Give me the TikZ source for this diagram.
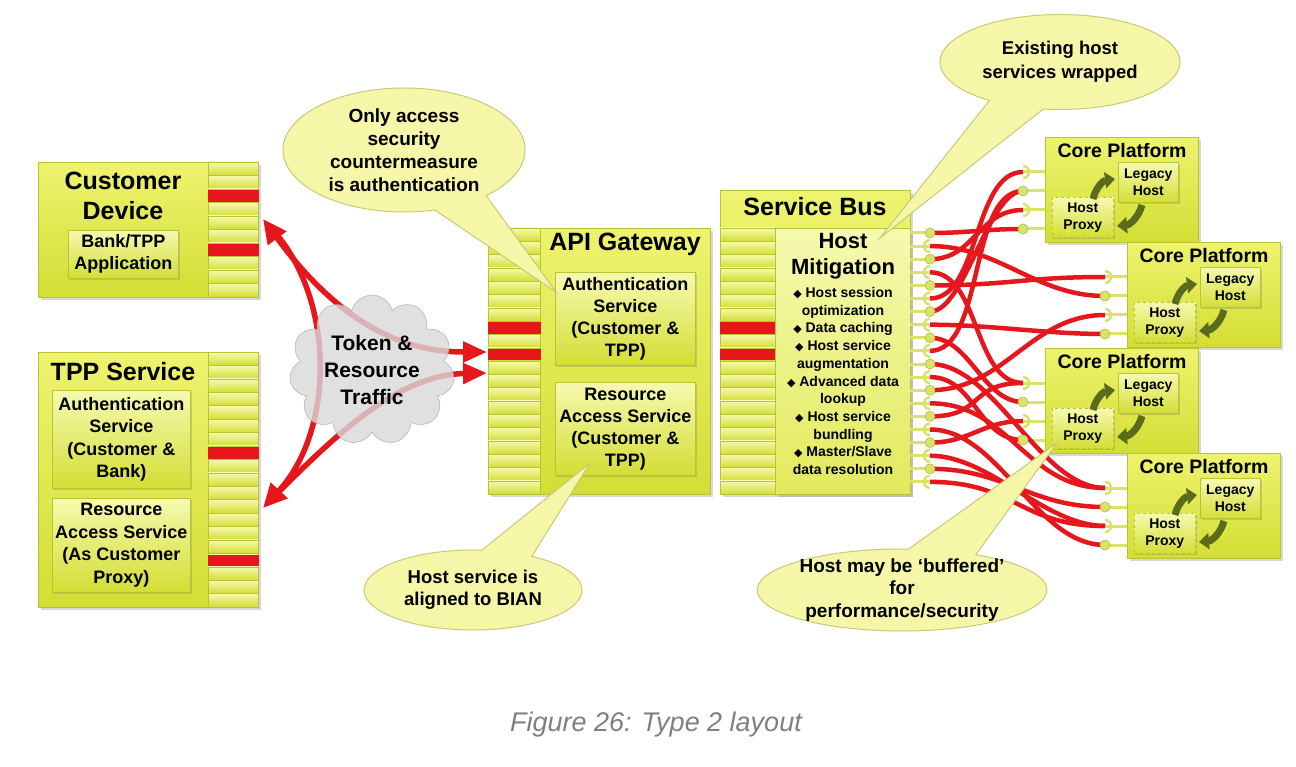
\documentclass[tikz,border=0pt]{standalone}
\usepackage{fontspec}
\setmainfont{Liberation Sans}
\newfontfamily\dejavu{DejaVu Sans}
\usetikzlibrary{arrows.meta,shapes.symbols,shapes.callouts,shadows}

\definecolor{paneltop}{HTML}{EEF36E}
\definecolor{panelbot}{HTML}{D3DE34}
\definecolor{paneledge}{HTML}{B9C530}
\definecolor{hosttop}{HTML}{F6F9B0}
\definecolor{hostbot}{HTML}{E2EA5C}
\definecolor{linkred}{HTML}{E5161C}
\definecolor{bubblefill}{HTML}{F6F6A8}
\definecolor{bubbleedge}{HTML}{C7CB76}
\definecolor{swirlgreen}{HTML}{5B6B1E}
\definecolor{plugcol}{HTML}{D9E36C}
\definecolor{plugedge}{HTML}{B3BF3A}
\definecolor{cloudgray}{HTML}{D9D9D9}

\newcommand{\setfs}[2]{\bfseries\fontsize{#1}{#2}\selectfont}
\newcommand{\dia}{{\dejavu\fontsize{11}{11}\selectfont ◆}\ }

\tikzset{
  panel/.style={draw=paneledge, line width=0.8pt, top color=paneltop, bottom color=panelbot,
    anchor=north west, inner sep=0pt,
    drop shadow={shadow xshift=3pt, shadow yshift=-3pt, opacity=0.3}},
  inbox/.style={draw=paneledge, line width=0.6pt, top color=hosttop, bottom color=panelbot,
    anchor=north west, align=center, inner sep=0pt,
    drop shadow={shadow xshift=2pt, shadow yshift=-2pt, opacity=0.3}},
  slat/.style={draw=paneledge, line width=0.4pt, top color=hosttop, bottom color=panelbot},
  redslat/.style={fill=linkred, draw=linkred},
  txt/.style={align=center, inner sep=0pt},
  flow/.style={draw=linkred, line width=5.5pt},
  link/.style={draw=linkred, line width=4.5pt},
  bubble/.style={ellipse callout, fill=bubblefill, draw=bubbleedge, line width=1pt,
    align=center, inner sep=0pt, callout pointer arc=28},
  plugline/.style={draw=plugcol, line width=3pt},
  ball/.style={fill=plugcol, draw=plugedge, line width=0.6pt},
  cup/.style={draw=plugcol, line width=2.5pt},
  swirl/.style={draw=swirlgreen, line width=7pt, -{Triangle[length=10pt,width=16pt]}},
}

\begin{document}
\begin{tikzpicture}[x=1pt,y=-1pt]
\fill[white] (0,0) rectangle (1296,767);
\useasboundingbox (0,0) rectangle (1296,767);

% customer device
\node[panel, minimum width=220, minimum height=135] (cd) at (38,162) {};
\foreach \i in {0,...,9}
  \draw[slat] (208,{162+13.5*\i}) rectangle ++(50,13.5);
\foreach \i in {2,6}
  \draw[redslat] (208,{163.5+13.5*\i}) rectangle ++(50,10.5);
\node[txt, font=\setfs{25}{30}] (cd-title) at (123,196) {Customer\\Device};
\node[inbox, minimum width=110, minimum height=48, font=\setfs{18}{22}] (cd-app) at (68,230) {Bank/TPP\\Application};

% tpp service
\node[panel, minimum width=220, minimum height=255] (tpp) at (38,352) {};
\foreach \i in {0,...,18}
  \draw[slat] (208,{352+13.42*\i}) rectangle ++(50,13.42);
\foreach \i in {7,15}
  \draw[redslat] (208,{353.5+13.42*\i}) rectangle ++(50,10.5);
\node[txt, font=\setfs{25}{30}] (tpp-title) at (123,372) {TPP Service};
\node[inbox, minimum width=138, minimum height=98, font=\setfs{18}{22.5}] (tpp-auth) at (52,390) {Authentication\\Service\\(Customer \&\\Bank)};
\node[inbox, minimum width=138, minimum height=94, font=\setfs{18}{22.5}] (tpp-res) at (52,498) {Resource\\Access Service\\(As Customer\\Proxy)};

% api gateway
\node[panel, minimum width=222, minimum height=266] (ag) at (488,228) {};
\foreach \i in {0,...,19}
  \draw[slat] (488,{228+13.3*\i}) rectangle ++(52,13.3);
\foreach \i in {7,9}
  \draw[redslat] (488,{229.5+13.3*\i}) rectangle ++(52,10.3);
\node[txt, font=\setfs{25}{30}] (ag-title) at (625,244) {API Gateway};
\node[inbox, minimum width=140, minimum height=93, font=\setfs{18}{22}] (ag-auth) at (555,272) {Authentication\\Service\\(Customer \&\\TPP)};
\node[inbox, minimum width=140, minimum height=93, font=\setfs{18}{22}] (ag-res) at (555,382) {Resource\\Access Service\\(Customer \&\\TPP)};

% service bus
\node[panel, minimum width=190, minimum height=304] (sb) at (720,190) {};
\node[txt, font=\setfs{25}{30}] (sb-title) at (815,207) {Service Bus};
\foreach \i in {0,...,19}
  \draw[slat] (720,{228+13.3*\i}) rectangle ++(55,13.3);
\foreach \i in {7,9}
  \draw[redslat] (720,{229.5+13.3*\i}) rectangle ++(55,10.3);
\node[panel, top color=hosttop, bottom color=hostbot, minimum width=135, minimum height=266] (hm) at (775,228) {};
\node[txt, font=\setfs{22}{26}] (hm-title) at (843,256) {Host\\Mitigation};
\node[txt, font=\setfs{14}{17.7}] (hm-list) at (843,381) {\dia Host session\\optimization\\\dia Data caching\\\dia Host service\\augmentation\\\dia Advanced data\\lookup\\\dia Host service\\bundling\\\dia Master/Slave\\data resolution};
\foreach \i in {0,...,19} {
  \coordinate (bus\i) at (930,{233+13.1*\i});
  \draw[plugline] (910,{233+13.1*\i}) -- (bus\i);
}

% core platforms
\foreach \n/\px/\py in {1/1045/137, 2/1127/242, 3/1045/348, 4/1127/453} {
  \node[panel, minimum width=153, minimum height=105] (cp\n) at (\px,\py) {};
  \node[txt, font=\setfs{19.5}{22}] (cp\n-title) at ({\px+77},{\py+14}) {Core Platform};
  \node[inbox, minimum width=60, minimum height=40, font=\setfs{14}{17}] (cp\n-legacy) at ({\px+73},{\py+25}) {Legacy\\Host};
  \node[inbox, dashed, minimum width=61, minimum height=40, font=\setfs{14}{17}] (cp\n-proxy) at ({\px+7},{\py+60}) {Host\\Proxy};
  \draw[swirl] ({\px+48},{\py+62}) to[bend left=35] ({\px+70},{\py+42});
  \draw[swirl] ({\px+97},{\py+68}) to[bend left=35] ({\px+72},{\py+89});
  \foreach \sock/\dy in {1/35,2/54,3/73,4/92} {
    \coordinate (cp\n-s\sock) at ({\px-22},{\py+\dy});
    \draw[plugline] (cp\n-s\sock) -- ({\px},{\py+\dy});
  }
}

% bus to platform links
\foreach \src/\dst/\ctl in {0/cp1-s4/40, 2/cp1-s3/45, 5/cp1-s1/50, 9/cp1-s2/55, 6/cp1-s2/35,
    1/cp2-s2/70, 4/cp2-s1/80, 7/cp2-s4/60, 12/cp2-s3/75,
    3/cp3-s1/50, 8/cp3-s2/40, 11/cp3-s4/45, 14/cp3-s1/55, 16/cp3-s3/40,
    10/cp4-s1/65, 13/cp4-s1/80, 15/cp4-s4/70, 17/cp4-s3/60, 18/cp4-s2/75, 19/cp4-s3/85}
  \draw[link] (bus\src) .. controls +(\ctl,0) and +(-\ctl,0) .. (\dst);

\foreach \i in {0,2,...,18}
  \draw[ball] (bus\i) circle[radius=5];
\foreach \i in {1,3,...,19}
  \draw[cup] (bus\i) ++(0,6) arc[start angle=90,end angle=270,radius=6];
\foreach \n in {1,...,4} {
  \draw[cup] (cp\n-s1) ++(0,-6) arc[start angle=-90,end angle=90,radius=6];
  \draw[ball] (cp\n-s2) circle[radius=5];
  \draw[cup] (cp\n-s3) ++(0,-6) arc[start angle=-90,end angle=90,radius=6];
  \draw[ball] (cp\n-s4) circle[radius=5];
}

% traffic
\coordinate (cdin) at (263,219);
\coordinate (tppin) at (263,508);
\coordinate (agin1) at (487,352);
\coordinate (agin2) at (487,373);
\draw[flow, {Triangle[length=24pt,width=22pt]}-{Triangle[length=24pt,width=20pt]}] (cdin) .. controls (330,310) and (390,352) .. (agin1);
\draw[flow, shorten <=16pt, -{Triangle[length=24pt,width=22pt]}] (cdin) .. controls (335,300) and (335,430) .. (tppin);
\draw[flow, shorten <=16pt, -{Triangle[length=24pt,width=20pt]}] (tppin) .. controls (340,430) and (400,375) .. (agin2);
\node[cloud, cloud puffs=11, aspect=1.1, draw=gray!70, fill=cloudgray, fill opacity=0.8, text opacity=1,
  minimum width=165, minimum height=150, txt, font=\setfs{21}{27}] (cloud) at (372,370) {Token \&\\Resource\\Traffic};

% callouts
\node[bubble, minimum width=242, minimum height=124, callout absolute pointer={(556,292)}, font=\setfs{19}{23}] (note-auth) at (404,150) {Only access\\security\\countermeasure\\is authentication};
\node[bubble, minimum width=240, minimum height=95, callout absolute pointer={(880,238)}, font=\setfs{18.5}{24}] (note-wrap) at (1060,62) {Existing host\\services wrapped};
\node[bubble, minimum width=218, minimum height=80, callout absolute pointer={(590,463)}, font=\setfs{18.5}{22.5}] (note-bian) at (473,590) {Host service is\\aligned to BIAN};
\node[bubble, inner ysep=-12pt, minimum width=285, minimum height=82, callout absolute pointer={(1057,443)}, font=\setfs{19}{22.5}] (note-buffer) at (902,590) {Host may be ‘buffered’\\for\\performance/security};

\node[font=\itshape\fontsize{27}{30}\selectfont, text=black!50] (caption) at (656,725) {Figure 26: Type 2 layout};
\end{tikzpicture}
\end{document}
